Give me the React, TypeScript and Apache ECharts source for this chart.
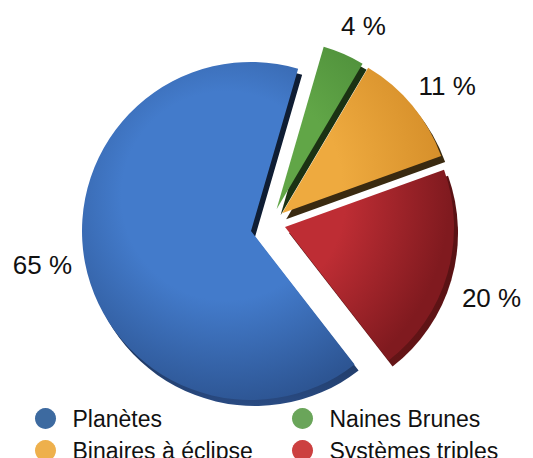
import React, { useEffect, useRef } from "react";
import * as echarts from "echarts";

const categories = ["Planètes", "Naines Brunes", "Binaires à éclipse", "Systèmes triples"];
const values = [65, 4, 11, 20];
const exploded = [false, true, true, true];
const legendLeftColumn = ["Planètes", "Binaires à éclipse"];
const legendRightColumn = ["Naines Brunes", "Systèmes triples"];

// styling / layout constants (not data)
const legendColors = ["#3d6aa0", "#6aa55a", "#eeb04c", "#cc4040"];
const faceInner = ["#437bcb", "#61a647", "#eeaa3f", "#be2d34"];
const faceOuter = ["#2d5593", "#4a8a38", "#d68f2a", "#801a1f"];
const sideTop = ["#0f1d33", "#1b3213", "#3a2a10", "#5a1214"];
const sideBottom = ["#2a4c85", "#1b3213", "#3a2a10", "#6a1618"];
const labelLen = [8, 31, 30, 10];
const labelNudgeX = [0, -20, -22, 0];
const labelNudgeY = [1, 0, 0, 21];

const CX = 251;
const CY = 231;
const R = 169;
const GROUP_DX = 19.6;
const GROUP_DY = -8.1;
const SIDE_DX = 4;
const SIDE_DY = 6;
const FONT = "'Liberation Sans', Arial, Helvetica, sans-serif";
const CLEAR = "rgba(0,0,0,0)";

export default function App() {
  const ref = useRef<HTMLDivElement>(null);
  useEffect(() => {
    if (!ref.current) return;
    const chart = echarts.init(ref.current, undefined, { renderer: "svg" });
    const face = (i: number) => ({
      type: "radial",
      x: CX - 25,
      y: CY - 35,
      r: R + 40,
      global: true,
      colorStops: [
        { offset: 0, color: faceInner[i] },
        { offset: 0.5, color: faceInner[i] },
        { offset: 1, color: faceOuter[i] },
      ],
    });
    const side = (i: number) => ({
      type: "linear",
      x: 0,
      y: CY - R,
      x2: 0,
      y2: CY + R + 10,
      global: true,
      colorStops: [
        { offset: 0, color: sideTop[i] },
        { offset: 0.6, color: sideTop[i] },
        { offset: 1, color: sideBottom[i] },
      ],
    });
    const base = {
      type: "pie",
      radius: R,
      startAngle: 307.8,
      clockwise: true,
      selectedMode: "multiple",
      selectedOffset: 15,
      avoidLabelOverlap: false,
      emphasis: { disabled: true, scale: false },
      select: { itemStyle: { borderWidth: 0 } },
      labelLine: { show: false },
    };
    const makeFront = (group: boolean, cx: number, cy: number) => ({
      ...base,
      z: 3,
      center: [cx, cy],
      label: {
        show: true,
        position: "outside",
        formatter: "{c} %",
        fontFamily: FONT,
        fontSize: 26,
        color: "#111",
      },
      labelLayout: (p: any) => ({ dx: labelNudgeX[p.dataIndex], dy: labelNudgeY[p.dataIndex] }),
      data: categories.map((n, i) => {
        const mine = exploded[i] === group;
        return {
          name: n,
          value: values[i],
          selected: exploded[i],
          itemStyle: { color: mine ? face(i) : CLEAR },
          label: { show: mine },
          labelLine: { show: false, length: labelLen[i], length2: 0 },
        };
      }),
    });
    const makeSide = (group: boolean, cx: number, cy: number) => ({
      ...base,
      z: 2,
      silent: true,
      center: [cx, cy],
      label: { show: false },
      data: categories.map((n, i) => {
        const mine = exploded[i] === group;
        return {
          name: n,
          value: values[i],
          selected: exploded[i],
          itemStyle: { color: mine ? side(i) : CLEAR },
        };
      }),
    });
    const legendCol = (names: string[], left: number) => ({
      left,
      top: 407,
      height: 80,
      padding: 0,
      orient: "vertical",
      itemWidth: 44,
      itemHeight: 21,
      itemGap: 9,
      icon: "circle",
      selectedMode: false,
      textStyle: {
        fontFamily: FONT,
        fontSize: 23,
        color: "#111",
        lineHeight: 21,
      },
      data: names.map((n) => ({
        name: n,
        itemStyle: { color: legendColors[categories.indexOf(n)] },
      })),
    });
    chart.setOption({
      animation: false,
      legend: [legendCol(legendLeftColumn, 35), legendCol(legendRightColumn, 292)],
      series: [
        makeFront(false, CX, CY),
        makeFront(true, CX + GROUP_DX, CY + GROUP_DY),
        makeSide(false, CX + SIDE_DX, CY + SIDE_DY),
        makeSide(true, CX + GROUP_DX + SIDE_DX, CY + GROUP_DY + SIDE_DY),
      ],
    });
    return () => chart.dispose();
  }, []);
  return (
    <div
      ref={ref}
      style={{ position: "fixed", left: 0, top: 0, width: 533, height: 458, background: "#fff" }}
    />
  );
}
